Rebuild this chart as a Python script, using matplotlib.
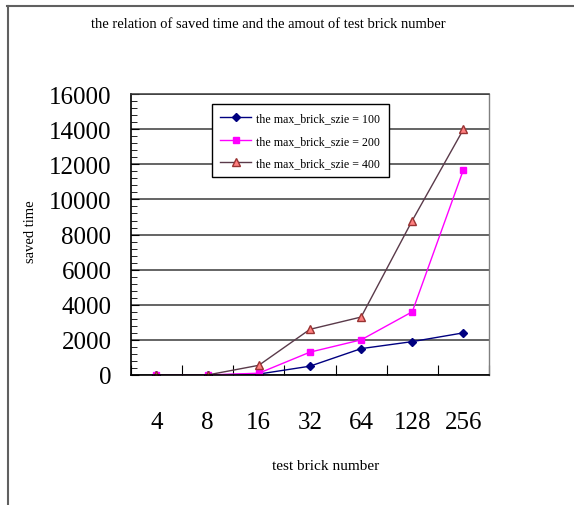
import matplotlib
matplotlib.use("Agg")
import matplotlib.pyplot as plt
from matplotlib.lines import Line2D
from matplotlib.ticker import MultipleLocator, FixedLocator

# 测试砖块数量与节省时间
brick_numbers = ["4", "8", "16", "32", "64", "128", "256"]
saved_100 = [0, 0, 50, 500, 1500, 1900, 2400]
saved_200 = [0, 0, 100, 1300, 2000, 3600, 11700]
saved_400 = [0, 0, 550, 2600, 3300, 8800, 14000]
series_labels = [
    "the max_brick_szie = 100",
    "the max_brick_szie = 200",
    "the max_brick_szie = 400",
]

plt.rcParams["font.family"] = ["Liberation Serif", "DejaVu Serif"]

fig = plt.figure(figsize=(5.74, 5.06), dpi=100)
ax = fig.add_axes([0.228, 0.257, 0.624, 0.555])

x = list(range(len(brick_numbers)))
ax.plot(x, saved_100, color="#000080", marker="D", markersize=3.8,
        linewidth=1.0, label=series_labels[0])
ax.plot(x, saved_200, color="#FF00FF", marker="s", markersize=4.8,
        linewidth=1.0, label=series_labels[1])
ax.plot(x, saved_400, color="#5a3a4a", marker="^", markersize=5.5,
        markerfacecolor="#FF8080", markeredgecolor="#993333",
        linewidth=1.0, label=series_labels[2])

ax.set_xlim(-0.5, len(brick_numbers) - 0.5)
ax.set_ylim(0, 16000)

# y 轴主刻度 2000，次刻度 400
ax.yaxis.set_major_locator(MultipleLocator(2000))
ax.yaxis.set_minor_locator(MultipleLocator(400))
ax.grid(axis="y", which="major", color="#3a3a3a", linewidth=1.1)
ax.tick_params(axis="y", which="major", direction="in", length=6,
               labelsize=18, pad=14)
ax.tick_params(axis="y", which="minor", direction="in", length=4)

# x 轴刻度线在类别边界，标签在类别中间
ax.xaxis.set_major_locator(FixedLocator([i - 0.5 for i in range(len(x) + 1)]))
ax.xaxis.set_minor_locator(FixedLocator(x))
ax.xaxis.set_major_formatter(plt.NullFormatter())
ax.set_xticks(x, brick_numbers, minor=True)
ax.tick_params(axis="x", which="major", direction="in", length=7)
ax.tick_params(axis="x", which="minor", length=0, labelsize=18, pad=26)

for side in ["left", "bottom"]:
    ax.spines[side].set_color("black")
    ax.spines[side].set_linewidth(1.2)
ax.spines["top"].set_color("#3a3a3a")
ax.spines["top"].set_linewidth(1.1)
ax.spines["right"].set_color("#808080")
ax.spines["right"].set_linewidth(1.0)

ax.set_xlabel("test brick number", fontsize=11)
ax.xaxis.set_label_coords(0.545, -0.30)
ax.set_ylabel("saved time", fontsize=10.5)
ax.yaxis.set_label_coords(-0.262, 0.512)
fig.text(0.468, 0.951, "the relation of saved time and the amout of test brick number",
         ha="center", va="center", fontsize=10.5)

leg = ax.legend(loc="upper left", bbox_to_anchor=(0.21, 0.985), fontsize=8.6,
                frameon=True, fancybox=False, framealpha=1,
                edgecolor="black", handlelength=2.6, borderpad=0.7,
                labelspacing=0.85, handletextpad=0.4)
leg.get_frame().set_linewidth(1.0)

# 外框：上边线与左边线
fig.add_artist(Line2D([0.012, 1.0], [0.986, 0.986], color="#606060",
                      linewidth=1.5, transform=fig.transFigure))
fig.add_artist(Line2D([0.014, 0.014], [0.0, 0.986], color="#606060",
                      linewidth=1.5, transform=fig.transFigure))

fig.savefig("out.png", dpi=100)
